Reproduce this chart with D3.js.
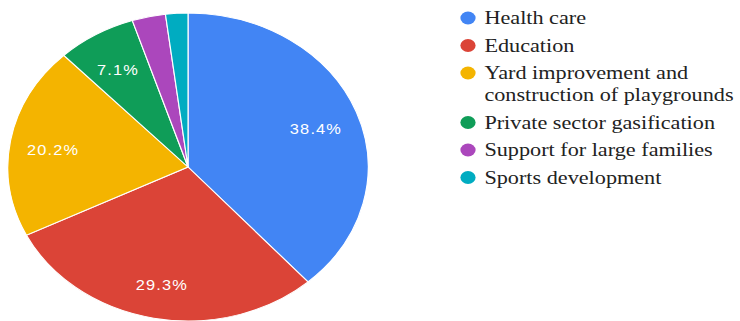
<!DOCTYPE html>
<html>
<head>
<meta charset="utf-8">
<script src="https://cdn.jsdelivr.net/npm/d3@7"></script>
<style>
    body { margin: 0; background: #ffffff; }
</style>
</head>
<body>
<div id="chart"></div>
<script>
const categories = [
    "Health care",
    "Education",
    "Yard improvement and construction of playgrounds",
    "Private sector gasification",
    "Support for large families",
    "Sports development"
];
const shares = [38.4, 29.3, 20.2, 7.1, 3.0, 2.0];
const colors = ["#4285f4", "#db4437", "#f4b400", "#0f9d58", "#ab47bc", "#00acc1"];
// legend lines (long label is wrapped like in the picture)
const legendLines = [
    ["Health care"],
    ["Education"],
    ["Yard improvement and", "construction of playgrounds"],
    ["Private sector gasification"],
    ["Support for large families"],
    ["Sports development"]
];

const dimensions = {
    width: 740,
    height: 321,
    stretchX: 1.17,          // picture is stretched sideways
    center: { x: 160.7, y: 167 },
    radius: 154,
    legend: { x: 400, y: 18, rowStep: 27.5, lineStep: 22 }
};

const svg = d3.select("#chart")
    .append("svg")
    .attr("width", dimensions.width)
    .attr("height", dimensions.height)

const bounds = svg.append("g")
    .attr("transform", `scale(${dimensions.stretchX}, 1)`)

//PIE
const pie = d3.pie()
    .sort(null)
    .value(d => d.value)

const arcs = pie(categories.map((c, i) => ({ name: c, value: shares[i], color: colors[i] })))

const arc = d3.arc()
    .innerRadius(0)
    .outerRadius(dimensions.radius)

const labelArc = d3.arc()
    .innerRadius(dimensions.radius * 0.76)
    .outerRadius(dimensions.radius * 0.76)

const pieGroup = bounds.append("g")
    .attr("transform", `translate(${dimensions.center.x}, ${dimensions.center.y})`)

pieGroup.selectAll("path")
    .data(arcs)
    .join("path")
    .attr("d", arc)
    .attr("fill", d => d.data.color)
    .attr("stroke", "#ffffff")
    .attr("stroke-width", 1)

pieGroup.selectAll("text")
    .data(arcs.filter(d => d.data.value >= 5))
    .join("text")
    .attr("transform", d => `translate(${labelArc.centroid(d)})`)
    .attr("text-anchor", "middle")
    .attr("dy", "0.6em")
    .style("font-family", "Arial, 'Liberation Sans', sans-serif")
    .style("font-size", "14px")
    .style("letter-spacing", "1px")
    .style("fill", "#ffffff")
    .text(d => d.data.value.toFixed(1) + "%")

//LEGEND
let y = dimensions.legend.y;
const legend = bounds.append("g")

legendLines.forEach((lines, i) => {
    const item = legend.append("g")
        .attr("transform", `translate(${dimensions.legend.x}, ${y})`)

    item.append("circle")
        .attr("r", 6.5)
        .attr("fill", colors[i])

    item.selectAll("text")
        .data(lines)
        .join("text")
        .attr("x", 14)
        .attr("y", (d, j) => 6 + j * dimensions.legend.lineStep)
        .style("font-family", "'Liberation Serif', 'Times New Roman', serif")
        .style("font-size", "19px")
        .style("fill", "#222222")
        .text(d => d)

    y += dimensions.legend.rowStep + (lines.length - 1) * dimensions.legend.lineStep;
})
</script>
</body>
</html>
